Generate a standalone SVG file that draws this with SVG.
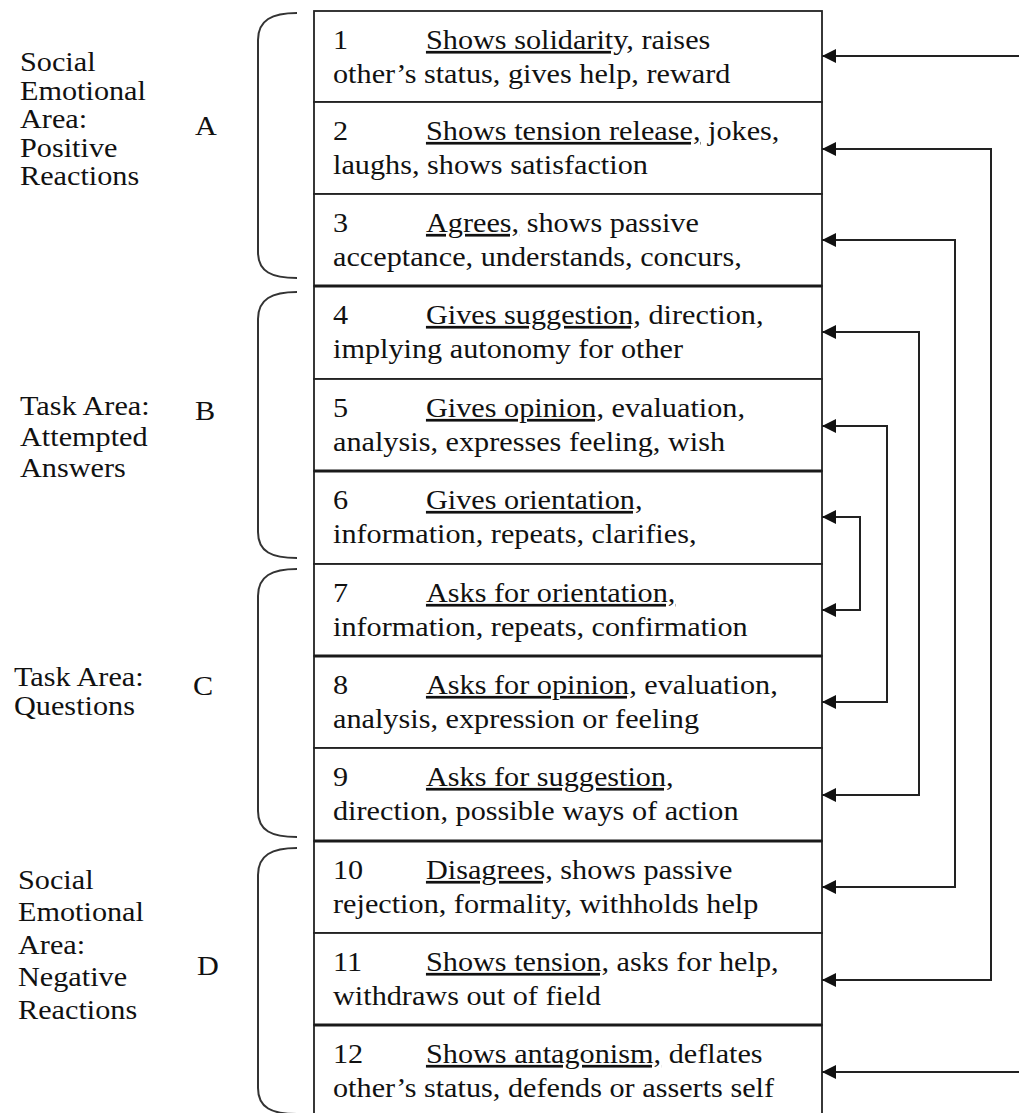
<svg xmlns="http://www.w3.org/2000/svg" width="1019" height="1113" viewBox="0 0 1019 1113">
  <style>
    .t { font-family: "Liberation Serif", "Times New Roman", serif; font-size: 27px; fill: #111111; }
    .u { text-decoration: underline; text-decoration-skip-ink: none; }
    .cell { fill: #ffffff; stroke: #222222; stroke-width: 1.8; }
    .thick { stroke: #1a1a1a; stroke-width: 3; }
    .brace { fill: none; stroke: #333333; stroke-width: 2; }
    .conn { fill: none; stroke: #222222; stroke-width: 2; }
  </style>
  <defs>
    <marker id="head" viewBox="0 0 14 14" refX="14" refY="7" markerWidth="14" markerHeight="14" markerUnits="userSpaceOnUse" orient="auto-start-reverse">
      <path d="M0 0 L14 7 L0 14 Z" fill="#111111"/>
    </marker>
  </defs>

  <rect width="1019" height="1113" fill="#ffffff"/>

  <!-- group labels on the left -->
  <g id="area-a">
    <path class="brace" d="M297 13 C272 13 258 20 258 40 V252 C258 272 272 278 297 278"/>
    <text class="t" transform="translate(20 71) scale(1.12 1)">Social</text>
    <text class="t" transform="translate(20 99.5) scale(1.12 1)">Emotional</text>
    <text class="t" transform="translate(20 128) scale(1.12 1)">Area:</text>
    <text class="t" transform="translate(20 156.5) scale(1.12 1)">Positive</text>
    <text class="t" transform="translate(20 185) scale(1.12 1)">Reactions</text>
    <text class="t" transform="translate(195 135) scale(1.12 1)">A</text>
  </g>
  <g id="area-b">
    <path class="brace" d="M297 292 C272 292 258 299 258 319 V532 C258 552 272 558 297 558"/>
    <text class="t" transform="translate(20 415) scale(1.12 1)">Task Area:</text>
    <text class="t" transform="translate(20 446) scale(1.12 1)">Attempted</text>
    <text class="t" transform="translate(20 477) scale(1.12 1)">Answers</text>
    <text class="t" transform="translate(195 420) scale(1.12 1)">B</text>
  </g>
  <g id="area-c">
    <path class="brace" d="M297 569 C272 569 258 576 258 596 V811 C258 831 272 837 297 837"/>
    <text class="t" transform="translate(14 686) scale(1.12 1)">Task Area:</text>
    <text class="t" transform="translate(14 715) scale(1.12 1)">Questions</text>
    <text class="t" transform="translate(193 695) scale(1.12 1)">C</text>
  </g>
  <g id="area-d">
    <path class="brace" d="M297 848 C272 848 258 855 258 875 V1088 C258 1108 272 1114 297 1114"/>
    <text class="t" transform="translate(18 889) scale(1.12 1)">Social</text>
    <text class="t" transform="translate(18 921) scale(1.12 1)">Emotional</text>
    <text class="t" transform="translate(18 954) scale(1.12 1)">Area:</text>
    <text class="t" transform="translate(18 986) scale(1.12 1)">Negative</text>
    <text class="t" transform="translate(18 1019) scale(1.12 1)">Reactions</text>
    <text class="t" transform="translate(197 975) scale(1.12 1)">D</text>
  </g>

  <!-- category rows -->
  <g id="row-1">
    <rect class="cell" x="314" y="11" width="508" height="91"/>
    <text class="t" transform="translate(333 49) scale(1.12 1)">1<tspan x="83"><tspan class="u">Shows solidarity,</tspan> raises</tspan></text>
    <text class="t" transform="translate(333 83) scale(1.12 1)">other’s status, gives help, reward</text>
  </g>
  <g id="row-2">
    <rect class="cell" x="314" y="102" width="508" height="92"/>
    <text class="t" transform="translate(333 140) scale(1.12 1)">2<tspan x="83"><tspan class="u">Shows tension release,</tspan> jokes,</tspan></text>
    <text class="t" transform="translate(333 174) scale(1.12 1)">laughs, shows satisfaction</text>
  </g>
  <g id="row-3">
    <rect class="cell" x="314" y="194" width="508" height="92"/>
    <text class="t" transform="translate(333 232) scale(1.12 1)">3<tspan x="83"><tspan class="u">Agrees,</tspan> shows passive</tspan></text>
    <text class="t" transform="translate(333 266) scale(1.12 1)">acceptance, understands, concurs,</text>
  </g>
  <g id="row-4">
    <rect class="cell" x="314" y="286" width="508" height="93"/>
    <text class="t" transform="translate(333 324) scale(1.12 1)">4<tspan x="83"><tspan class="u">Gives suggestion,</tspan> direction,</tspan></text>
    <text class="t" transform="translate(333 358) scale(1.12 1)">implying autonomy for other</text>
  </g>
  <g id="row-5">
    <rect class="cell" x="314" y="379" width="508" height="92"/>
    <text class="t" transform="translate(333 417) scale(1.12 1)">5<tspan x="83"><tspan class="u">Gives opinion,</tspan> evaluation,</tspan></text>
    <text class="t" transform="translate(333 451) scale(1.12 1)">analysis, expresses feeling, wish</text>
  </g>
  <g id="row-6">
    <rect class="cell" x="314" y="471" width="508" height="93"/>
    <text class="t" transform="translate(333 509) scale(1.12 1)">6<tspan x="83" class="u">Gives orientation,</tspan></text>
    <text class="t" transform="translate(333 543) scale(1.12 1)">information, repeats, clarifies,</text>
  </g>
  <g id="row-7">
    <rect class="cell" x="314" y="564" width="508" height="92"/>
    <text class="t" transform="translate(333 602) scale(1.12 1)">7<tspan x="83" class="u">Asks for orientation,</tspan></text>
    <text class="t" transform="translate(333 636) scale(1.12 1)">information, repeats, confirmation</text>
  </g>
  <g id="row-8">
    <rect class="cell" x="314" y="656" width="508" height="92"/>
    <text class="t" transform="translate(333 694) scale(1.12 1)">8<tspan x="83"><tspan class="u">Asks for opinion,</tspan> evaluation,</tspan></text>
    <text class="t" transform="translate(333 728) scale(1.12 1)">analysis, expression or feeling</text>
  </g>
  <g id="row-9">
    <rect class="cell" x="314" y="748" width="508" height="93"/>
    <text class="t" transform="translate(333 786) scale(1.12 1)">9<tspan x="83" class="u">Asks for suggestion,</tspan></text>
    <text class="t" transform="translate(333 820) scale(1.12 1)">direction, possible ways of action</text>
  </g>
  <g id="row-10">
    <rect class="cell" x="314" y="841" width="508" height="92"/>
    <text class="t" transform="translate(333 879) scale(1.12 1)">10<tspan x="83"><tspan class="u">Disagrees,</tspan> shows passive</tspan></text>
    <text class="t" transform="translate(333 913) scale(1.12 1)">rejection, formality, withholds help</text>
  </g>
  <g id="row-11">
    <rect class="cell" x="314" y="933" width="508" height="92"/>
    <text class="t" transform="translate(333 971) scale(1.12 1)">11<tspan x="83"><tspan class="u">Shows tension,</tspan> asks for help,</tspan></text>
    <text class="t" transform="translate(333 1005) scale(1.12 1)">withdraws out of field</text>
  </g>
  <g id="row-12">
    <rect class="cell" x="314" y="1025" width="508" height="100"/>
    <text class="t" transform="translate(333 1063) scale(1.12 1)">12<tspan x="83"><tspan class="u">Shows antagonism,</tspan> deflates</tspan></text>
    <text class="t" transform="translate(333 1097) scale(1.12 1)">other’s status, defends or asserts self</text>
  </g>

  <!-- heavier rules between row pairs -->
  <g id="rules">
    <line class="thick" x1="314" y1="286" x2="822" y2="286"/>
    <line class="thick" x1="314" y1="471" x2="822" y2="471"/>
    <line class="thick" x1="314" y1="656" x2="822" y2="656"/>
    <line class="thick" x1="314" y1="841" x2="822" y2="841"/>
    <line class="thick" x1="314" y1="1025" x2="822" y2="1025"/>
  </g>

  <!-- paired arrows on the right -->
  <g id="connectors">
    <path class="conn" d="M1019 56 H822" marker-end="url(#head)"/>
    <path class="conn" d="M822 149 H991 V980 H822" marker-start="url(#head)" marker-end="url(#head)"/>
    <path class="conn" d="M822 240 H955 V887 H822" marker-start="url(#head)" marker-end="url(#head)"/>
    <path class="conn" d="M822 332 H919 V795 H822" marker-start="url(#head)" marker-end="url(#head)"/>
    <path class="conn" d="M822 426 H887 V702 H822" marker-start="url(#head)" marker-end="url(#head)"/>
    <path class="conn" d="M822 517 H860 V610 H822" marker-start="url(#head)" marker-end="url(#head)"/>
    <path class="conn" d="M1019 1072 H822" marker-end="url(#head)"/>
  </g>
</svg>
